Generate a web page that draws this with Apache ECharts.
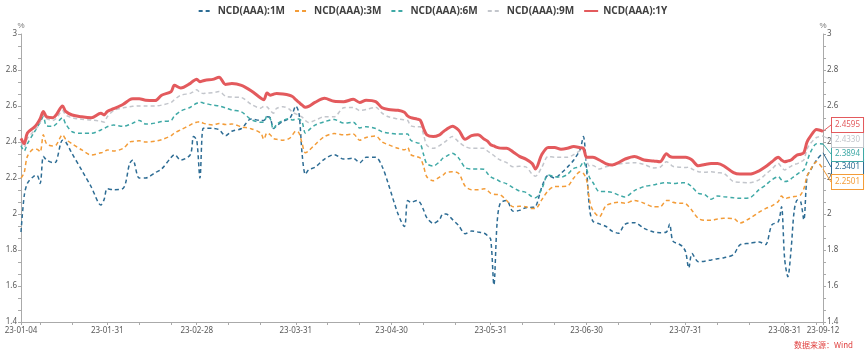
<!DOCTYPE html>
<html>
<head>
<meta charset="utf-8">
<script src="https://cdn.jsdelivr.net/npm/echarts@6/dist/echarts.min.js"></script>
<style>
  html, body { margin: 0; background: #fff; }
  #chart { width: 865px; height: 353px; }
</style>
</head>
<body>
<div id="chart"></div>
<script>
// sample dates (calendar days)
const dates = [
  '2023-01-04','2023-01-05','2023-01-06','2023-01-08','2023-01-09','2023-01-10','2023-01-11','2023-01-12','2023-01-14','2023-01-15',
  '2023-01-17','2023-01-18','2023-01-20','2023-01-23','2023-01-26','2023-01-29','2023-01-30','2023-01-31','2023-02-02','2023-02-05',
  '2023-02-07','2023-02-08','2023-02-10','2023-02-12','2023-02-15',
  '2023-02-17','2023-02-20','2023-02-21','2023-02-23','2023-02-26','2023-02-27','2023-02-28','2023-03-01','2023-03-02','2023-03-03',
  '2023-03-05','2023-03-07','2023-03-09','2023-03-11','2023-03-14','2023-03-17','2023-03-20','2023-03-21','2023-03-22','2023-03-23',
  '2023-03-24','2023-03-25','2023-03-27','2023-03-29',
  '2023-03-30','2023-03-31','2023-04-01','2023-04-02','2023-04-03','2023-04-04','2023-04-06','2023-04-09','2023-04-12','2023-04-15',
  '2023-04-18','2023-04-20','2023-04-22','2023-04-25','2023-04-27','2023-04-29','2023-05-02','2023-05-04','2023-05-05','2023-05-06',
  '2023-05-08','2023-05-09','2023-05-10','2023-05-11',
  '2023-05-13','2023-05-15','2023-05-16','2023-05-17','2023-05-19','2023-05-21','2023-05-23','2023-05-25','2023-05-27','2023-05-29',
  '2023-05-30','2023-05-31','2023-06-01','2023-06-02','2023-06-03','2023-06-05','2023-06-07','2023-06-09','2023-06-11','2023-06-13',
  '2023-06-14','2023-06-16','2023-06-18','2023-06-20',
  '2023-06-22','2023-06-24','2023-06-26','2023-06-28','2023-06-29','2023-06-30','2023-07-01','2023-07-02','2023-07-04','2023-07-06',
  '2023-07-08','2023-07-10','2023-07-12','2023-07-15','2023-07-18','2023-07-21','2023-07-23','2023-07-25','2023-07-26','2023-07-27',
  '2023-07-29','2023-07-30','2023-07-31','2023-08-01','2023-08-02',
  '2023-08-04','2023-08-06','2023-08-08','2023-08-10','2023-08-12','2023-08-15','2023-08-17','2023-08-20','2023-08-23','2023-08-25',
  '2023-08-27','2023-08-29','2023-08-30','2023-08-31','2023-09-01','2023-09-02','2023-09-03','2023-09-04','2023-09-05','2023-09-06',
  '2023-09-07','2023-09-08','2023-09-10','2023-09-12'
];

const ncd1M = [
  1.90,2.10,2.17,2.21,2.215,2.17,2.32,2.30,2.285,2.29,2.41,2.40,2.335,2.244,2.15,2.05,2.08,2.14,2.135,2.143,2.28,2.30,2.20,2.20,2.23,
  2.25,2.315,2.33,2.30,2.33,2.43,2.41,2.20,2.476,2.476,2.476,2.468,2.435,2.46,2.475,2.528,2.52,2.52,2.54,2.535,2.475,2.49,2.515,2.53,
  2.56,2.60,2.56,2.33,2.22,2.245,2.26,2.305,2.33,2.305,2.31,2.285,2.315,2.315,2.265,2.165,2.00,1.93,2.075,2.065,2.075,2.06,2.022,1.98,
  1.948,1.97,2.0,2.0,1.97,1.935,1.89,1.905,1.90,1.893,1.88,1.86,1.606,1.95,2.06,2.075,2.015,2.02,2.035,2.037,2.04,2.15,2.215,2.20,
  2.226,2.26,2.30,2.36,2.43,2.25,2.02,1.96,1.945,1.932,1.905,1.893,1.943,1.952,1.92,1.90,1.896,1.90,1.944,1.85,1.832,1.82,1.79,1.70,1.78,
  1.735,1.738,1.745,1.752,1.757,1.775,1.828,1.837,1.845,1.83,1.94,1.957,2.04,1.75,1.652,1.80,2.02,2.078,2.07,1.967,2.207,2.24,2.30,2.3401
];

const ncd3M = [
  2.20,2.23,2.32,2.36,2.36,2.345,2.44,2.39,2.378,2.383,2.44,2.415,2.39,2.356,2.328,2.34,2.345,2.356,2.35,2.365,2.40,2.403,2.407,2.40,2.405,
  2.413,2.435,2.45,2.468,2.495,2.505,2.51,2.513,2.505,2.50,2.495,2.503,2.497,2.50,2.484,2.474,2.45,2.415,2.45,2.44,2.42,2.415,2.41,2.42,
  2.44,2.46,2.45,2.39,2.34,2.35,2.385,2.43,2.447,2.44,2.444,2.41,2.425,2.433,2.40,2.385,2.365,2.357,2.37,2.33,2.318,2.31,2.265,2.207,
  2.185,2.205,2.215,2.23,2.235,2.225,2.155,2.135,2.135,2.14,2.13,2.115,2.11,2.108,2.106,2.075,2.04,2.043,2.04,2.03,2.03,2.08,2.13,2.152,
  2.153,2.155,2.20,2.235,2.226,2.19,2.07,2.02,1.985,2.045,2.06,2.065,2.06,2.075,2.06,2.04,2.04,2.075,2.075,2.065,2.06,2.06,2.058,2.04,2.02,
  1.975,1.965,1.965,1.972,1.976,1.975,1.95,1.975,2.01,2.03,2.045,2.07,2.10,2.085,2.09,2.095,2.097,2.10,2.107,2.14,2.21,2.245,2.29,2.2501
];

const ncd6M = [
  2.38,2.35,2.39,2.45,2.48,2.51,2.54,2.49,2.488,2.50,2.535,2.50,2.457,2.448,2.448,2.467,2.475,2.485,2.494,2.487,2.497,2.505,2.52,2.50,2.505,
  2.514,2.52,2.545,2.572,2.593,2.605,2.615,2.622,2.617,2.613,2.605,2.60,2.59,2.578,2.567,2.525,2.51,2.51,2.545,2.53,2.47,2.497,2.52,2.53,
  2.522,2.527,2.528,2.51,2.45,2.465,2.494,2.513,2.525,2.505,2.51,2.478,2.485,2.475,2.457,2.45,2.444,2.444,2.444,2.41,2.395,2.39,2.33,2.28,
  2.267,2.29,2.31,2.32,2.337,2.31,2.258,2.25,2.25,2.248,2.225,2.207,2.197,2.19,2.18,2.168,2.147,2.128,2.12,2.095,2.09,2.14,2.217,2.207,
  2.205,2.22,2.254,2.263,2.29,2.25,2.20,2.175,2.125,2.125,2.12,2.106,2.095,2.13,2.152,2.162,2.17,2.174,2.172,2.17,2.172,2.173,2.174,2.165,2.15,
  2.115,2.108,2.082,2.10,2.096,2.09,2.087,2.09,2.135,2.16,2.19,2.207,2.19,2.18,2.183,2.195,2.21,2.222,2.235,2.245,2.29,2.34,2.39,2.3894
];

const ncd9M = [
  2.40,2.37,2.42,2.46,2.48,2.51,2.55,2.53,2.52,2.53,2.575,2.55,2.535,2.526,2.522,2.515,2.51,2.54,2.575,2.59,2.596,2.598,2.60,2.60,2.60,
  2.605,2.62,2.635,2.66,2.67,2.68,2.69,2.675,2.67,2.672,2.674,2.68,2.655,2.65,2.647,2.61,2.588,2.598,2.595,2.575,2.56,2.587,2.596,2.582,
  2.565,2.556,2.548,2.538,2.52,2.508,2.52,2.54,2.54,2.59,2.592,2.575,2.58,2.593,2.56,2.54,2.528,2.523,2.52,2.49,2.485,2.485,2.44,2.383,
  2.365,2.38,2.392,2.405,2.43,2.40,2.375,2.365,2.365,2.365,2.35,2.337,2.325,2.31,2.30,2.285,2.262,2.265,2.262,2.22,2.21,2.26,2.32,2.315,
  2.315,2.315,2.33,2.352,2.358,2.30,2.265,2.27,2.25,2.262,2.27,2.278,2.282,2.285,2.275,2.256,2.26,2.29,2.28,2.265,2.26,2.26,2.258,2.26,2.25,
  2.235,2.232,2.235,2.23,2.225,2.18,2.176,2.174,2.19,2.22,2.25,2.28,2.26,2.245,2.255,2.265,2.275,2.28,2.29,2.30,2.36,2.39,2.425,2.433
];

const ncd1Y = [
  2.42,2.39,2.45,2.48,2.50,2.53,2.57,2.54,2.535,2.55,2.60,2.57,2.55,2.54,2.535,2.56,2.55,2.57,2.585,2.61,2.635,2.64,2.64,2.632,2.63,
  2.66,2.68,2.715,2.70,2.726,2.74,2.748,2.735,2.74,2.745,2.748,2.76,2.72,2.725,2.715,2.685,2.645,2.635,2.672,2.66,2.665,2.67,2.667,2.66,
  2.652,2.635,2.62,2.605,2.593,2.598,2.62,2.643,2.626,2.624,2.637,2.62,2.632,2.624,2.59,2.58,2.576,2.565,2.545,2.535,2.527,2.52,2.475,2.44,
  2.43,2.44,2.455,2.468,2.488,2.465,2.415,2.435,2.44,2.415,2.405,2.385,2.378,2.37,2.366,2.365,2.345,2.32,2.305,2.28,2.25,2.33,2.37,2.37,
  2.36,2.365,2.375,2.368,2.365,2.315,2.315,2.315,2.30,2.28,2.272,2.285,2.305,2.32,2.30,2.295,2.29,2.335,2.32,2.315,2.315,2.315,2.315,2.31,2.30,
  2.268,2.275,2.28,2.28,2.267,2.23,2.222,2.222,2.24,2.262,2.29,2.315,2.30,2.29,2.295,2.30,2.315,2.328,2.332,2.34,2.40,2.43,2.47,2.4595
];

// x axis tick labels and tick marks
const labelDates = ['2023-01-04','2023-01-31','2023-02-28','2023-03-31','2023-04-30','2023-05-31','2023-06-30','2023-07-31','2023-08-31','2023-09-12'];
const tickDates = [
  '2023-01-04','2023-01-10','2023-01-20','2023-01-31','2023-02-10','2023-02-20','2023-02-28','2023-03-10','2023-03-20','2023-03-31',
  '2023-04-10','2023-04-20','2023-04-30','2023-05-10','2023-05-20','2023-05-31','2023-06-10','2023-06-20','2023-06-30','2023-07-10',
  '2023-07-20','2023-07-31','2023-08-10','2023-08-20','2023-08-31','2023-09-10','2023-09-12'
];

const names = ['NCD(AAA):1M', 'NCD(AAA):3M', 'NCD(AAA):6M', 'NCD(AAA):9M', 'NCD(AAA):1Y'];
const values = [ncd1M, ncd3M, ncd6M, ncd9M, ncd1Y];
const colors = ['#2d6c94', '#f39c38', '#3fa9a6', '#c3c6cc', '#e35a5d'];
const endLabelY = [160, 175, 147, 133, 118];

function toTime(s) {
  const p = s.split('-').map(Number);
  return new Date(p[0], p[1] - 1, p[2]).getTime();
}
function pad(n) { return n < 10 ? '0' + n : '' + n; }
function fmtDate(v) {
  const d = new Date(v);
  return String(d.getFullYear()).slice(2) + '-' + pad(d.getMonth() + 1) + '-' + pad(d.getDate());
}

const chart = echarts.init(document.getElementById('chart'));

const series = names.map((name, i) => {
  const isMain = i === 4;
  const data = dates.map((d, j) => {
    const point = [toTime(d), values[i][j]];
    if (j === dates.length - 1) {
      // last point carries the value box
      return {
        value: point,
        symbol: 'circle',
        symbolSize: 0.1,
        label: {
          show: true,
          position: 'right',
          formatter: (p) => p.value[1].toFixed(4),
          color: colors[i],
          fontSize: 8,
          fontFamily: 'Noto Sans',
          backgroundColor: '#fff',
          borderColor: colors[i],
          borderWidth: 1,
          padding: [3, 3]
        }
      };
    }
    return point;
  });
  return {
    name: name,
    type: 'line',
    data: data,
    smooth: 0.3,
    symbol: 'none',
    showSymbol: true,
    color: colors[i],
    lineStyle: isMain
      ? { width: 3, color: colors[i] }
      : { width: 1.5, color: colors[i], type: [4, 3] },
    labelLayout: { x: 832, y: endLabelY[i] },
    labelLine: { show: true, lineStyle: { color: colors[i], width: 1 } },
    emphasis: { disabled: true }
  };
});

const yAxisBase = {
  type: 'value',
  min: 1.4,
  max: 3,
  interval: 0.2,
  name: '%',
  nameGap: 4,
  nameTextStyle: { color: '#777', fontSize: 8 },
  axisLine: { show: true, lineStyle: { color: '#aaa' } },
  axisTick: { show: true, length: 3, lineStyle: { color: '#aaa' } },
  minorTick: { show: true, splitNumber: 3, length: 3, lineStyle: { color: '#aaa' } },
  splitLine: { show: false },
  axisLabel: { color: '#595959', fontSize: 8, margin: 4, fontFamily: 'Noto Sans' }
};

const option = {
  backgroundColor: '#fff',
  animation: false,
  legend: {
    top: 1,
    left: 'center',
    itemWidth: 14,
    itemHeight: 8,
    itemGap: 9,
    itemStyle: { opacity: 0 },
    textStyle: { color: '#404040', fontSize: 10, fontWeight: 'bold', fontFamily: 'Noto Sans' },
    data: names
  },
  grid: { left: 21, right: 42, top: 34, bottom: 31 },
  xAxis: {
    type: 'value',
    min: toTime(dates[0]),
    max: toTime(dates[dates.length - 1]),
    axisLine: { show: true, lineStyle: { color: '#aaa' } },
    axisTick: { show: true, length: 3, lineStyle: { color: '#aaa' }, customValues: tickDates.map(toTime) },
    axisLabel: {
      color: '#595959',
      fontSize: 8,
      margin: 5,
      fontFamily: 'Noto Sans',
      customValues: labelDates.map(toTime),
      formatter: (v) => fmtDate(v)
    },
    splitLine: { show: false }
  },
  yAxis: [
    Object.assign({}, yAxisBase, { position: 'left' }),
    Object.assign({}, yAxisBase, { position: 'right' })
  ],
  series: series,
  graphic: [{
    type: 'text',
    right: 12,
    bottom: 4,
    style: {
      text: '数据来源：Wind',
      fill: '#e0403f',
      font: '8px "Noto Sans CJK SC"'
    }
  }]
};

chart.setOption(option);
</script>
</body>
</html>
